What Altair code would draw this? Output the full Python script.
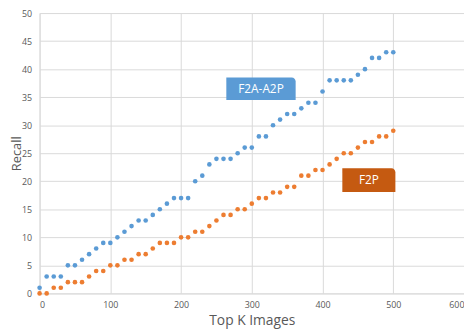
import altair as alt
import pandas as pd

top_k = list(range(0, 510, 10))
f2a_a2p = [1, 3, 3, 3, 5, 5, 6, 7, 8, 9, 9, 10, 11, 12, 13, 13, 14, 15, 16, 17,
           17, 17, 20, 21, 23, 24, 24, 24, 25, 26, 26, 28, 28, 30, 31, 32, 32, 33, 34, 34,
           36, 38, 38, 38, 38, 39, 40, 42, 42, 43, 43]
f2p = [0, 0, 1, 1, 2, 2, 2, 3, 4, 4, 5, 5, 6, 6, 7, 7, 8, 9, 9, 9,
       10, 10, 11, 11, 12, 13, 14, 14, 15, 15, 16, 17, 17, 18, 18, 19, 19, 21, 21, 22,
       22, 23, 24, 25, 25, 26, 27, 27, 28, 28, 29]
x_ticks = [0, 100, 200, 300, 400, 500, 600]
y_ticks = [0, 5, 10, 15, 20, 25, 30, 35, 40, 45, 50]

series_names = ["F2A-A2P", "F2P"]
series_colors = ["#5B9BD5", "#ED7D31"]
label_colors = ["#5B9BD5", "#C55A11"]
label_x0 = [264, 428]
label_x1 = [362, 503]
label_y0 = [34.5, 18.1]
label_y1 = [38.5, 22.3]

df = pd.DataFrame({
    "k": top_k * 2,
    "recall": f2a_a2p + f2p,
    "series": [series_names[0]] * len(top_k) + [series_names[1]] * len(top_k),
})
lab = pd.DataFrame({
    "name": series_names,
    "x0": label_x0, "x1": label_x1, "y0": label_y0, "y1": label_y1,
    "xm": [(a + b) / 2 for a, b in zip(label_x0, label_x1)],
    "ym": [(a + b) / 2 for a, b in zip(label_y0, label_y1)],
})

font = "Open Sans"
grey = "#D9D9D9"
xscale = alt.Scale(domain=[0, 600], nice=False)
yscale = alt.Scale(domain=[0, 50], nice=False)

ax_x = alt.Axis(values=x_ticks, grid=True, gridColor=grey, domainColor=grey,
                ticks=False, labelColor="#595959", labelFontSize=9, labelFont=font,
                labelPadding=7, titleFont=font, titleFontSize=14,
                titleFontWeight="normal", titleColor="#595959", titlePadding=5)
ax_y = alt.Axis(values=y_ticks, grid=True, gridColor=grey, domainColor=grey,
                ticks=False, labelColor="#595959", labelFontSize=9,
                labelFont=font, labelPadding=8, titleFont=font, titleFontSize=13,
                titleFontWeight="normal", titleColor="#595959",
                titleX=-23, titleBaseline="middle", titleAlign="center")
xt = "Top K Images"
yt = "Recall"

points = alt.Chart(df).mark_circle(size=22, opacity=1).encode(
    x=alt.X("k:Q", scale=xscale, title=xt, axis=ax_x),
    y=alt.Y("recall:Q", scale=yscale, title=yt, axis=ax_y),
    color=alt.Color("series:N", scale=alt.Scale(domain=series_names, range=series_colors),
                    legend=None),
)

boxes = alt.Chart(lab).mark_rect(cornerRadiusTopRight=4).encode(
    x=alt.X("x0:Q", scale=xscale, title=xt, axis=ax_x), x2="x1:Q",
    y=alt.Y("y0:Q", scale=yscale, title=yt, axis=ax_y), y2="y1:Q",
    color=alt.Color("name:N", scale=alt.Scale(domain=series_names, range=label_colors),
                    legend=None),
)
texts = alt.Chart(lab).mark_text(color="white", font=font, fontSize=12).encode(
    x=alt.X("xm:Q", scale=xscale, title=xt, axis=ax_x),
    y=alt.Y("ym:Q", scale=yscale, title=yt, axis=ax_y),
    text="name:N",
)

chart = alt.layer(points, boxes, texts).resolve_scale(color="independent").properties(
    width=430, height=284,
    autosize=alt.AutoSizeParams(type="none"),
    padding={"left": 32, "top": 3, "right": 0, "bottom": 37},
).configure_view(stroke=None)

chart.save("out.html", embed_options={"renderer": "svg", "actions": False})
